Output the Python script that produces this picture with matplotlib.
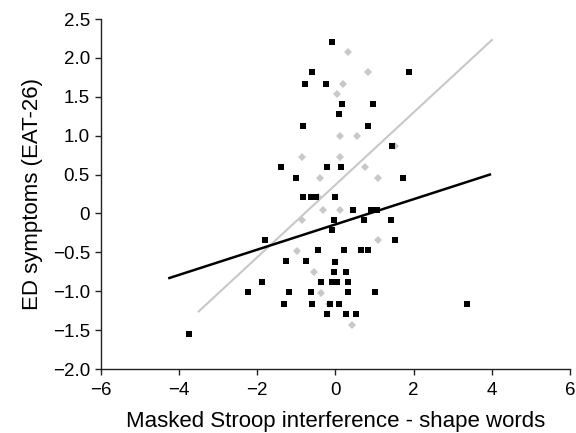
import matplotlib
matplotlib.use("Agg")
import matplotlib.pyplot as plt

plt.rcParams['font.family'] = ['Liberation Sans', 'DejaVu Sans']

# Black squares (group 1)
black_x = [-0.09, -0.59, -0.79, -0.25, 1.88, 0.16, 0.95, 0.08, -0.83, 0.83,
           1.45, -1.40, -0.21, 0.14, -1.00, 1.73, -0.83, -0.62, -0.50, -0.01,
           0.45, 0.90, 1.06, -0.03, 0.72, 1.41, -0.09, -1.81, 1.53, -0.44,
           0.22, 0.66, 0.84, -1.26, -0.75, -0.01, -0.03, 0.28, -1.89, -0.38,
           -0.09, 0.05, 0.31, -2.24, -1.19, -0.63, 0.31, 1.01, -1.31, -0.61,
           -0.13, 0.08, -0.21, 0.28, 0.52, -3.75, 3.36]
black_y = [2.21, 1.82, 1.67, 1.67, 1.82, 1.41, 1.41, 1.28, 1.13, 1.13,
           0.87, 0.60, 0.60, 0.60, 0.46, 0.46, 0.21, 0.21, 0.21, 0.21,
           0.05, 0.05, 0.05, -0.08, -0.08, -0.08, -0.21, -0.34, -0.34, -0.47,
           -0.47, -0.47, -0.47, -0.61, -0.61, -0.62, -0.75, -0.75, -0.88, -0.88,
           -0.88, -0.88, -0.88, -1.01, -1.01, -1.01, -1.01, -1.01, -1.16, -1.16,
           -1.16, -1.16, -1.29, -1.29, -1.29, -1.55, -1.16]

# Grey diamonds (group 2)
grey_x = [0.32, 0.82, 0.20, 0.03, 0.12, 0.55, -0.86, 0.12, 0.76, -0.40,
          1.10, -0.45, 1.52, -0.31, 0.12, -0.86, 1.10, -0.98, -0.54, -0.37,
          -0.17, 0.41]
grey_y = [2.08, 1.82, 1.67, 1.54, 1.00, 1.00, 0.73, 0.73, 0.60, 0.46,
          0.46, 0.21, 0.87, 0.05, 0.05, -0.08, -0.34, -0.48, -0.75, -1.02,
          -1.17, -1.43]

# Fit lines (endpoints)
black_line_x = [-4.25, 3.95]
black_line_y = [-0.83, 0.50]
grey_line_x = [-3.50, 4.00]
grey_line_y = [-1.26, 2.23]

x_ticks = [-6, -4, -2, 0, 2, 4, 6]
x_labels = ['\u22126', '\u22124', '\u22122', '0', '2', '4', '6']
y_ticks = [-2.0, -1.5, -1.0, -0.5, 0, 0.5, 1.0, 1.5, 2.0, 2.5]
y_labels = ['\u22122.0', '\u22121.5', '\u22121.0', '\u22120.5', '0', '0.5', '1.0', '1.5', '2.0', '2.5']

fig = plt.figure(figsize=(5.76, 4.33), dpi=100)
ax = fig.add_axes([0.1753, 0.1478, 0.8143, 0.8083])

ax.plot(grey_line_x, grey_line_y, color='#c8c8c8', lw=1.5, zorder=2)
ax.plot(grey_x, grey_y, linestyle='none', marker='D', ms=3.7, color='#c8c8c8',
        markeredgewidth=0, zorder=3)
ax.plot(black_x, black_y, linestyle='none', marker='s', ms=4.6, color='black',
        markeredgewidth=0, zorder=4)
ax.plot(black_line_x, black_line_y, color='black', lw=1.8, zorder=5)

ax.set_xlim(-6, 6)
ax.set_ylim(-2.0, 2.5)
ax.set_xticks(x_ticks)
ax.set_xticklabels(x_labels)
ax.set_yticks(y_ticks)
ax.set_yticklabels(y_labels)
for s in ['top', 'right']:
    ax.spines[s].set_visible(False)
for s in ['left', 'bottom']:
    ax.spines[s].set_color('#222222')
    ax.spines[s].set_linewidth(1.0)
ax.tick_params(direction='out', length=4, width=1.0, colors='#222222',
               labelsize=13.5, labelcolor='black')
ax.tick_params(axis='x', pad=5)
ax.tick_params(axis='y', pad=4)
ax.set_xlabel('Masked Stroop interference - shape words', fontsize=16, labelpad=9)
ax.set_ylabel('ED symptoms (EAT-26)', fontsize=16, labelpad=7)

fig.savefig('out.png', dpi=100)
